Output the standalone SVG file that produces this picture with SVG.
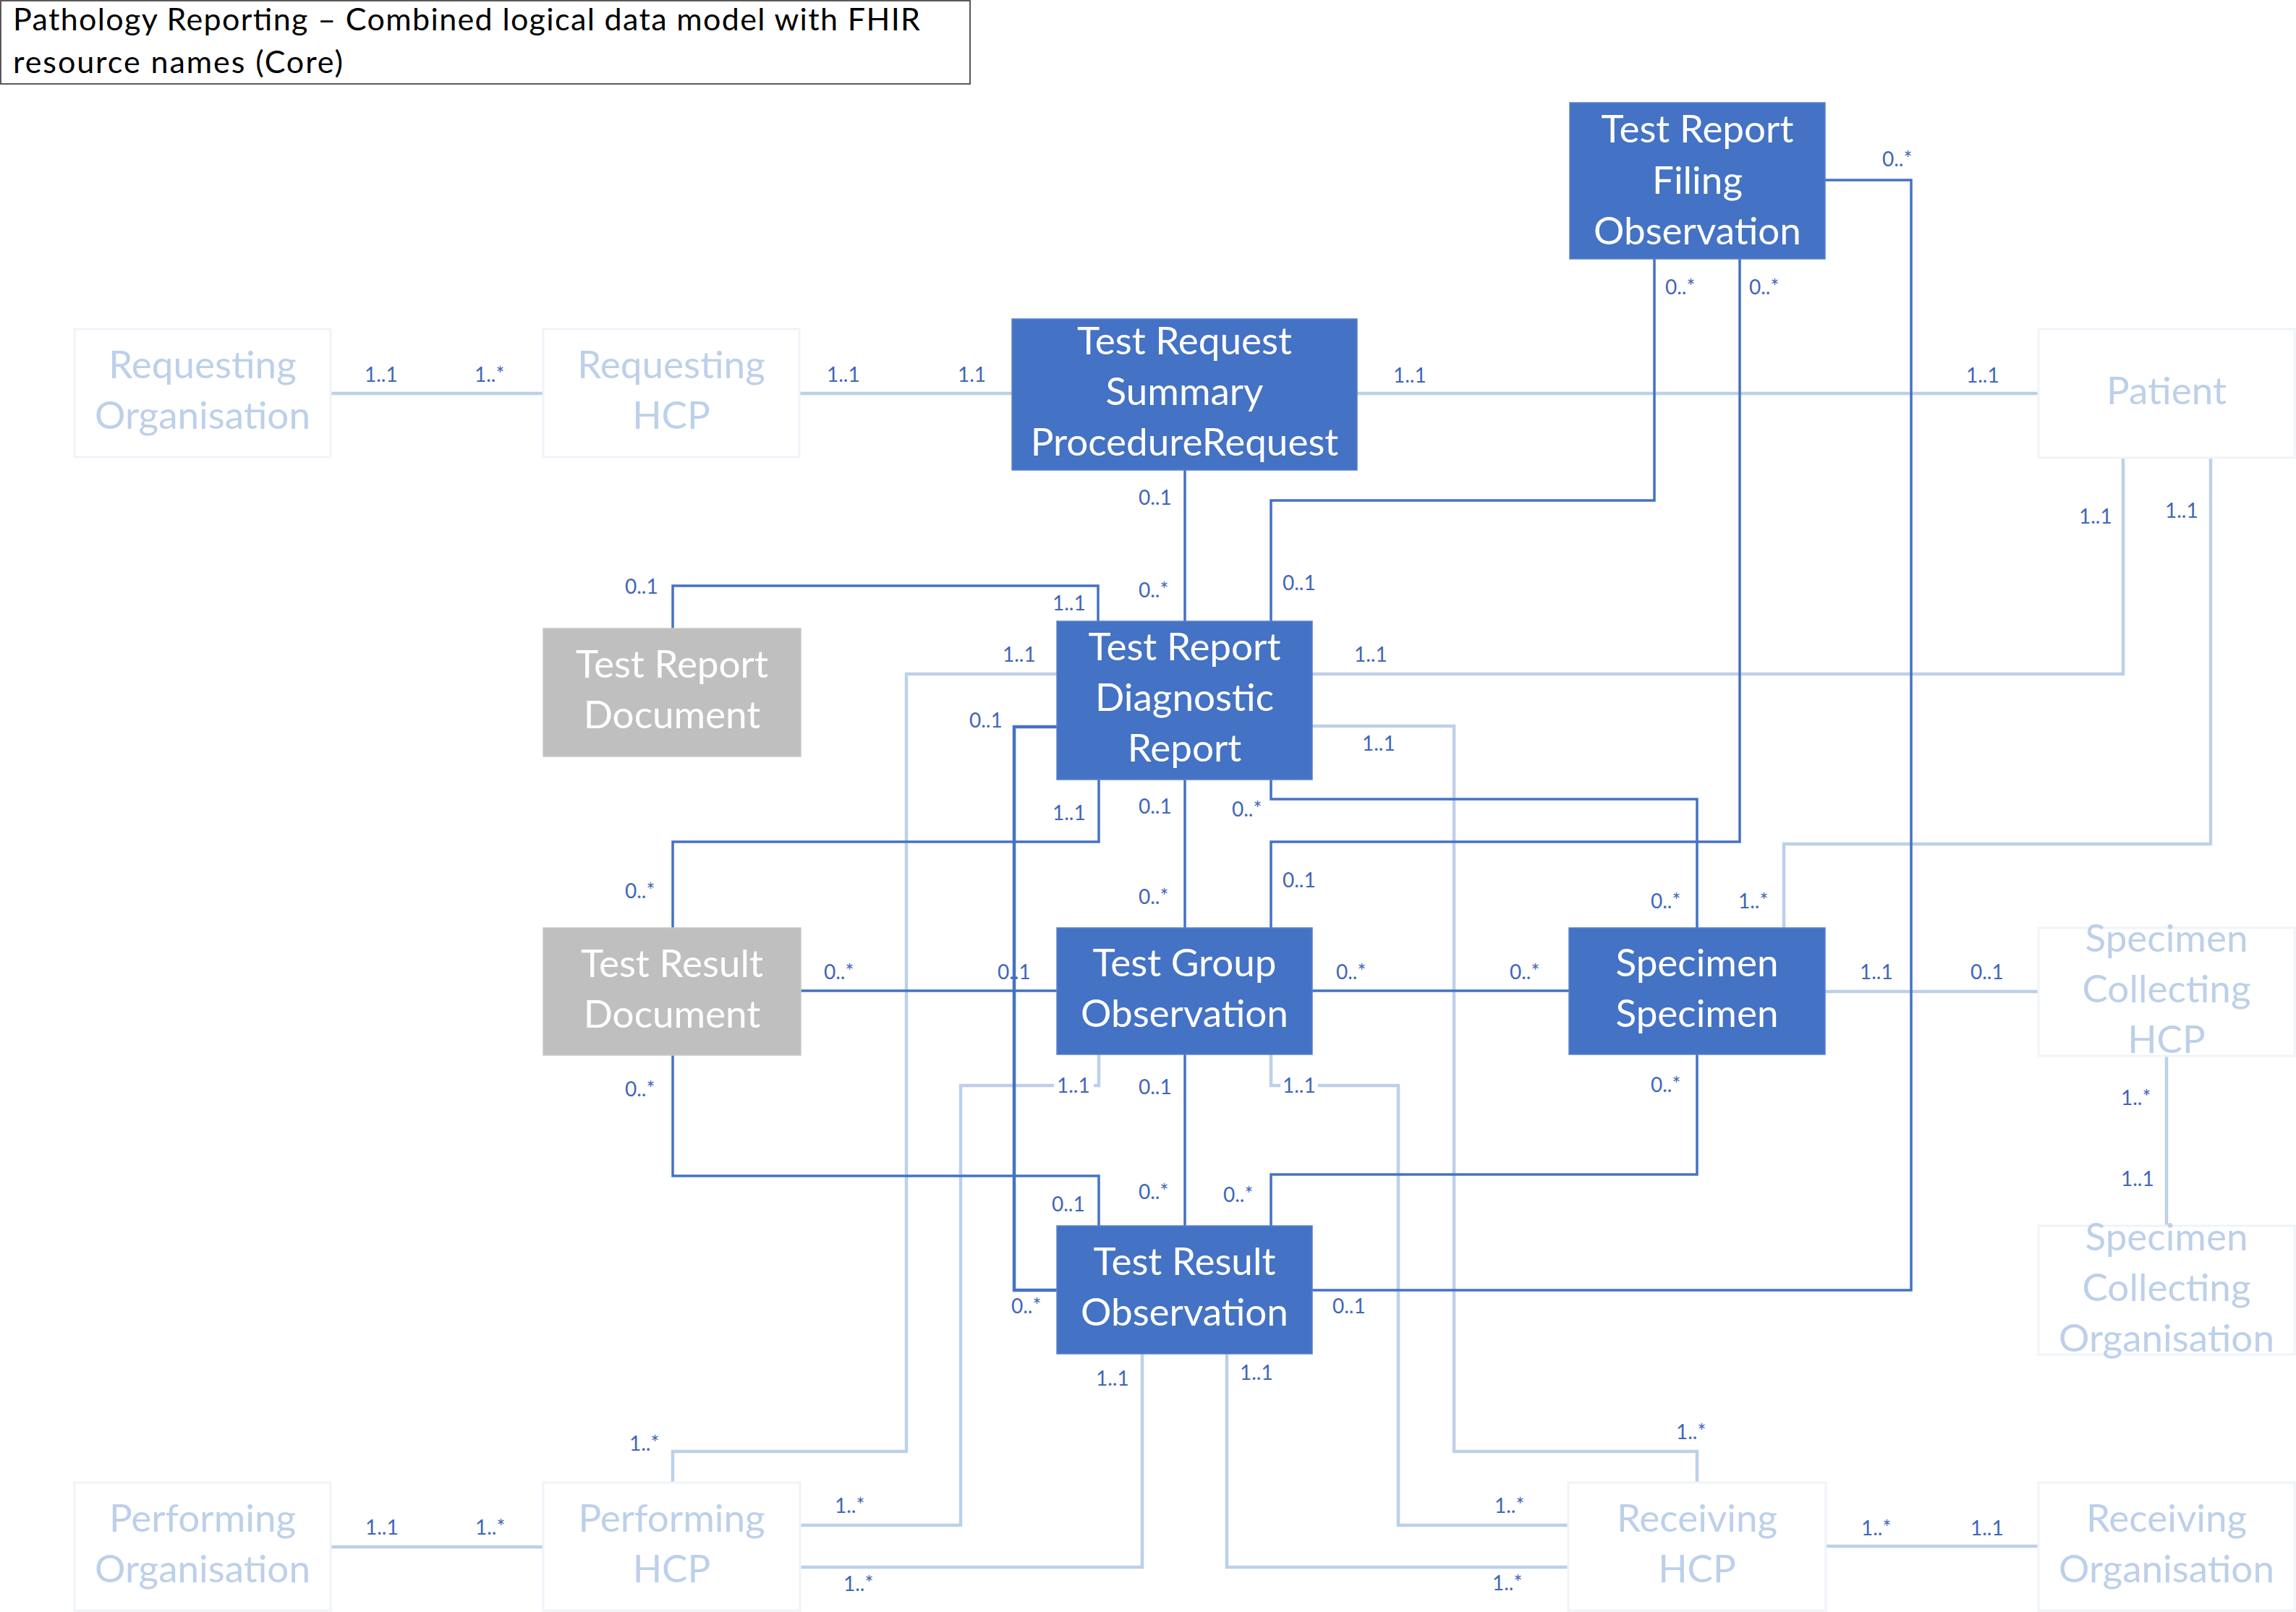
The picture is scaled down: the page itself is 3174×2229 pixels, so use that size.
<svg xmlns="http://www.w3.org/2000/svg" width="3174" height="2229" viewBox="0 0 3174 2229">
<style>
.bg{fill:#ffffff}
.title{fill:#ffffff;stroke:#595959;stroke-width:2}
.tt{font-family:Lato,"Liberation Sans",sans-serif;font-size:43px;fill:#000000}
.dk{fill:#4472C4;stroke:#5A82CB;stroke-width:1.5}
.gr{fill:#BFBFBF;stroke:#C8C8C8;stroke-width:1.5}
.lt{fill:#ffffff;stroke:#EFF3FA;stroke-width:3}
.nt{font-family:Lato,"Liberation Sans",sans-serif;font-size:53px;text-anchor:middle;fill:#ffffff}
.nl{font-family:Lato,"Liberation Sans",sans-serif;font-size:53px;text-anchor:middle;fill:#BDD0EA}
.cd{fill:none;stroke:#4472C4;stroke-width:3.5;stroke-linejoin:miter}
.cl{fill:none;stroke:#BDD0EA;stroke-width:4.5;stroke-linejoin:miter}
.m{font-family:Lato,"Liberation Sans",sans-serif;font-size:28px;fill:#3F66B8}
</style>
<rect class="bg" x="0" y="0" width="3174" height="2229"/>

<g id="connectors">
  <!-- light connectors -->
  <path class="cl" d="M457,544 H751"/>
  <path class="cl" d="M1105,544 H1399"/>
  <path class="cl" d="M1876,544 H2818"/>
  <path class="cl" d="M1814,932 H2935 V633"/>
  <path class="cl" d="M3056,633 V1167 H2466 V1283"/>
  <path class="cl" d="M1461,932 H1253 V2007 H930 V2050"/>
  <path class="cl" d="M1814,1004 H2010 V2007 H2346 V2050"/>
  <path class="cl" d="M2523,1371 H2818"/>
  <path class="cl" d="M2995,1458 V1695"/>
  <path class="cl" d="M1519,1458 V1501 H1512 M1457,1501 H1328 V2109 H1106"/>
  <path class="cl" d="M1757,1458 V1501 H1770 M1822,1501 H1933 V2109 H2168"/>
  <path class="cl" d="M1579,1872 V2167 H1106"/>
  <path class="cl" d="M1696,1872 V2167 H2168"/>
  <path class="cl" d="M457,2139 H752"/>
  <path class="cl" d="M2524,2138 H2818"/>
  <!-- dark connectors -->
  <path class="cd" d="M1638,650 V859"/>
  <path class="cd" d="M2287,358 V692 H1757 V859"/>
  <path class="cd" d="M2405,358 V1164 H1757 V1283"/>
  <path class="cd" d="M2523,249 H2642 V1784 H1814"/>
  <path class="cd" d="M930,869 V810 H1518 V859"/>
  <path class="cd" d="M930,1283 V1164 H1519 V1078"/>
  <path class="cd" d="M1461,1005 H1402 V1784 H1461" style="stroke-width:4.5"/>
  <path class="cd" d="M1638,1078 V1283"/>
  <path class="cd" d="M1757,1078 V1105 H2346 V1283"/>
  <path class="cd" d="M1107,1370 H1461"/>
  <path class="cd" d="M1814,1370 H2169"/>
  <path class="cd" d="M1638,1458 V1695"/>
  <path class="cd" d="M930,1459 V1626 H1519 V1695"/>
  <path class="cd" d="M2346,1458 V1624 H1757 V1695"/>
</g>

<g id="multiplicities">
  <text class="m" x="504" y="528">1..1</text>
  <text class="m" x="656" y="528">1..*</text>
  <text class="m" x="1143" y="528">1..1</text>
  <text class="m" x="1324" y="528">1.1</text>
  <text class="m" x="1926" y="529">1..1</text>
  <text class="m" x="2718" y="529">1..1</text>
  <text class="m" x="2602" y="230">0..*</text>
  <text class="m" x="2302" y="407">0..*</text>
  <text class="m" x="2418" y="407">0..*</text>
  <text class="m" x="1574" y="698">0..1</text>
  <text class="m" x="1574" y="826">0..*</text>
  <text class="m" x="1773" y="816">0..1</text>
  <text class="m" x="864" y="821">0..1</text>
  <text class="m" x="1455" y="844">1..1</text>
  <text class="m" x="1386" y="915">1..1</text>
  <text class="m" x="1340" y="1006">0..1</text>
  <text class="m" x="1872" y="915">1..1</text>
  <text class="m" x="1883" y="1038">1..1</text>
  <text class="m" x="1455" y="1134">1..1</text>
  <text class="m" x="1574" y="1125">0..1</text>
  <text class="m" x="1703" y="1129">0..*</text>
  <text class="m" x="864" y="1242">0..*</text>
  <text class="m" x="1574" y="1250">0..*</text>
  <text class="m" x="1773" y="1227">0..1</text>
  <text class="m" x="2282" y="1256">0..*</text>
  <text class="m" x="2403" y="1256">1..*</text>
  <text class="m" x="2874" y="724">1..1</text>
  <text class="m" x="2993" y="716">1..1</text>
  <text class="m" x="1139" y="1354">0..*</text>
  <text class="m" x="1379" y="1354">0..1</text>
  <text class="m" x="1847" y="1354">0..*</text>
  <text class="m" x="2087" y="1354">0..*</text>
  <text class="m" x="2571" y="1354">1..1</text>
  <text class="m" x="2724" y="1354">0..1</text>
  <text class="m" x="864" y="1516">0..*</text>
  <text class="m" x="1461" y="1511">1..1</text>
  <text class="m" x="1574" y="1513">0..1</text>
  <text class="m" x="1773" y="1511">1..1</text>
  <text class="m" x="2282" y="1510">0..*</text>
  <text class="m" x="2932" y="1528">1..*</text>
  <text class="m" x="1454" y="1675">0..1</text>
  <text class="m" x="1574" y="1658">0..*</text>
  <text class="m" x="1691" y="1662">0..*</text>
  <text class="m" x="2932" y="1640">1..1</text>
  <text class="m" x="1398" y="1816">0..*</text>
  <text class="m" x="1842" y="1816">0..1</text>
  <text class="m" x="1515" y="1916">1..1</text>
  <text class="m" x="1714" y="1908">1..1</text>
  <text class="m" x="870" y="2006">1..*</text>
  <text class="m" x="2317" y="1990">1..*</text>
  <text class="m" x="1154" y="2092">1..*</text>
  <text class="m" x="2066" y="2092">1..*</text>
  <text class="m" x="1166" y="2200">1..*</text>
  <text class="m" x="2063" y="2199">1..*</text>
  <text class="m" x="505" y="2122">1..1</text>
  <text class="m" x="657" y="2122">1..*</text>
  <text class="m" x="2573" y="2123">1..*</text>
  <text class="m" x="2724" y="2123">1..1</text>
</g>

<g id="title">
  <rect class="title" x="1" y="1" width="1340" height="115"/>
  <text class="tt" x="18" y="42" textLength="1254" lengthAdjust="spacing">Pathology Reporting – Combined logical data model with FHIR</text>
  <text class="tt" x="18" y="101" textLength="456" lengthAdjust="spacing">resource names (Core)</text>
</g>

<g id="requesting-organisation">
  <rect class="lt" x="103" y="455" width="354" height="177"/>
  <text class="nl" x="280" y="523">Requesting</text>
  <text class="nl" x="280" y="593">Organisation</text>
</g>
<g id="requesting-hcp">
  <rect class="lt" x="751" y="455" width="354" height="177"/>
  <text class="nl" x="928" y="523">Requesting</text>
  <text class="nl" x="928" y="593">HCP</text>
</g>
<g id="test-request-summary">
  <rect class="dk" x="1399" y="441" width="477" height="209"/>
  <text class="nt" x="1637.5" y="490">Test Request</text>
  <text class="nt" x="1637.5" y="560">Summary</text>
  <text class="nt" x="1637.5" y="630">ProcedureRequest</text>
</g>
<g id="test-report-filing">
  <rect class="dk" x="2170" y="142" width="353" height="216"/>
  <text class="nt" x="2346.5" y="197">Test Report</text>
  <text class="nt" x="2346.5" y="268">Filing</text>
  <text class="nt" x="2346.5" y="338">Observation</text>
</g>
<g id="patient">
  <rect class="lt" x="2818" y="455" width="354" height="178"/>
  <text class="nl" x="2995" y="559">Patient</text>
</g>
<g id="test-report-document">
  <rect class="gr" x="751" y="869" width="356" height="177"/>
  <text class="nt" x="929" y="937">Test Report</text>
  <text class="nt" x="929" y="1007">Document</text>
</g>
<g id="test-report-diagnostic-report">
  <rect class="dk" x="1461" y="859" width="353" height="219"/>
  <text class="nt" x="1637.5" y="913">Test Report</text>
  <text class="nt" x="1637.5" y="983">Diagnostic</text>
  <text class="nt" x="1637.5" y="1053">Report</text>
</g>
<g id="test-result-document">
  <rect class="gr" x="751" y="1283" width="356" height="176"/>
  <text class="nt" x="929" y="1351">Test Result</text>
  <text class="nt" x="929" y="1421">Document</text>
</g>
<g id="test-group-observation">
  <rect class="dk" x="1461" y="1283" width="353" height="175"/>
  <text class="nt" x="1637.5" y="1350">Test Group</text>
  <text class="nt" x="1637.5" y="1420">Observation</text>
</g>
<g id="specimen">
  <rect class="dk" x="2169" y="1283" width="354" height="175"/>
  <text class="nt" x="2346" y="1350">Specimen</text>
  <text class="nt" x="2346" y="1420">Specimen</text>
</g>
<g id="specimen-collecting-hcp">
  <rect class="lt" x="2818" y="1283" width="354" height="177"/>
  <text class="nl" x="2995" y="1316">Specimen</text>
  <text class="nl" x="2995" y="1386">Collecting</text>
  <text class="nl" x="2995" y="1456">HCP</text>
</g>
<g id="test-result-observation">
  <rect class="dk" x="1461" y="1695" width="353" height="177"/>
  <text class="nt" x="1637.5" y="1763">Test Result</text>
  <text class="nt" x="1637.5" y="1833">Observation</text>
</g>
<g id="specimen-collecting-organisation">
  <rect class="lt" x="2818" y="1695" width="354" height="178"/>
  <text class="nl" x="2995" y="1729">Specimen</text>
  <text class="nl" x="2995" y="1799">Collecting</text>
  <text class="nl" x="2995" y="1869">Organisation</text>
</g>
<g id="performing-organisation">
  <rect class="lt" x="103" y="2050" width="354" height="177"/>
  <text class="nl" x="280" y="2118">Performing</text>
  <text class="nl" x="280" y="2188">Organisation</text>
</g>
<g id="performing-hcp">
  <rect class="lt" x="751" y="2050" width="355" height="177"/>
  <text class="nl" x="928.5" y="2118">Performing</text>
  <text class="nl" x="928.5" y="2188">HCP</text>
</g>
<g id="receiving-hcp">
  <rect class="lt" x="2168" y="2050" width="356" height="177"/>
  <text class="nl" x="2346" y="2118">Receiving</text>
  <text class="nl" x="2346" y="2188">HCP</text>
</g>
<g id="receiving-organisation">
  <rect class="lt" x="2818" y="2050" width="354" height="177"/>
  <text class="nl" x="2995" y="2118">Receiving</text>
  <text class="nl" x="2995" y="2188">Organisation</text>
</g>
</svg>
